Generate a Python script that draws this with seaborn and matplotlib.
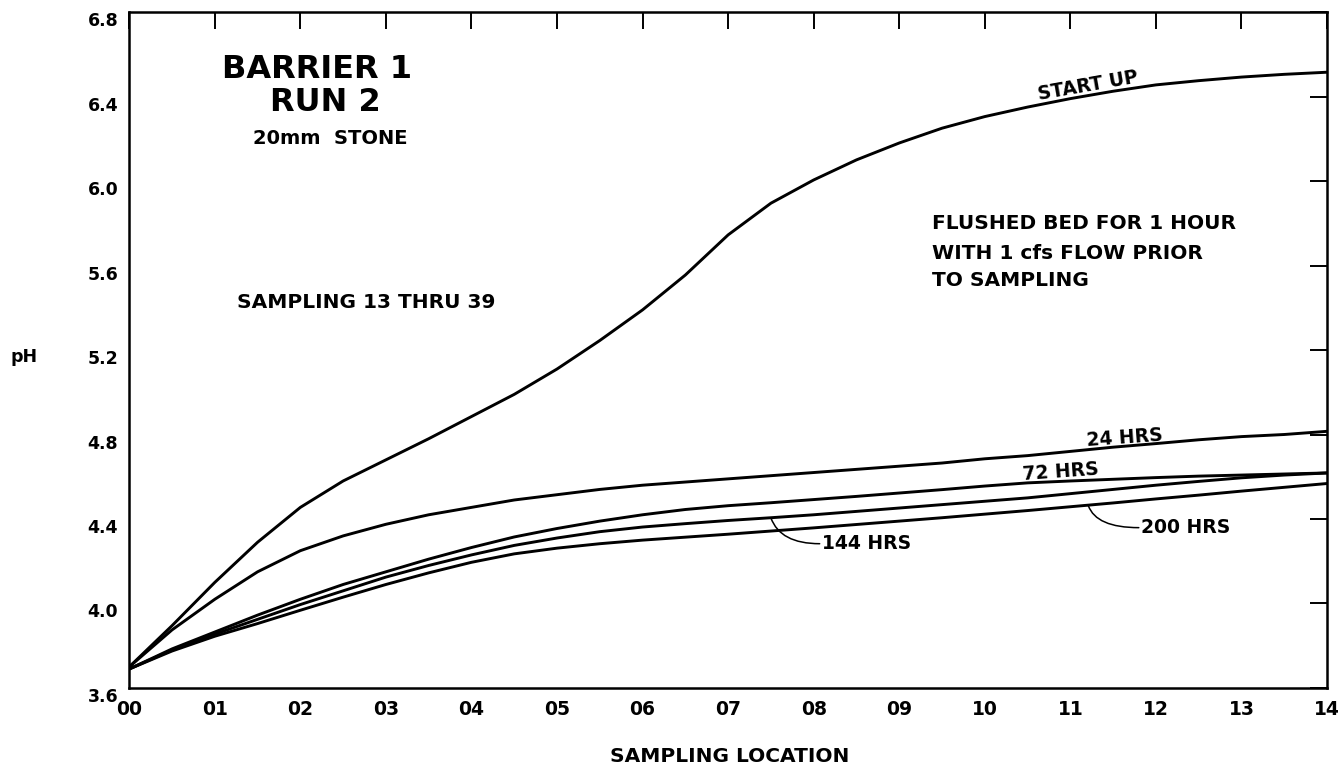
import matplotlib
matplotlib.use("Agg")
import matplotlib.pyplot as plt
import seaborn as sns
import pandas as pd

# ---------------- data ----------------
locations = [0.0, 0.5, 1.0, 1.5, 2.0, 2.5, 3.0, 3.5, 4.0, 4.5, 5.0, 5.5, 6.0, 6.5,
             7.0, 7.5, 8.0, 8.5, 9.0, 9.5, 10.0, 10.5, 11.0, 11.5, 12.0, 12.5,
             13.0, 13.5, 14.0]

start_up = [3.70, 3.895, 4.10, 4.29, 4.455, 4.58, 4.68, 4.78, 4.885, 4.99, 5.11,
            5.245, 5.39, 5.555, 5.745, 5.895, 6.005, 6.10, 6.18, 6.25, 6.305,
            6.35, 6.39, 6.425, 6.455, 6.475, 6.492, 6.505, 6.515]

hrs_24 = [3.70, 3.875, 4.02, 4.15, 4.25, 4.32, 4.375, 4.42, 4.455, 4.49, 4.515,
          4.54, 4.56, 4.575, 4.59, 4.605, 4.62, 4.635, 4.65, 4.665, 4.685,
          4.70, 4.72, 4.74, 4.757, 4.775, 4.79, 4.80, 4.815]

hrs_72 = [3.69, 3.785, 3.865, 3.945, 4.02, 4.09, 4.15, 4.21, 4.265, 4.315, 4.355,
          4.39, 4.42, 4.445, 4.463, 4.477, 4.492, 4.507, 4.523, 4.539, 4.556,
          4.571, 4.580, 4.588, 4.596, 4.603, 4.608, 4.613, 4.618]

hrs_144 = [3.69, 3.78, 3.855, 3.925, 3.995, 4.06, 4.125, 4.18, 4.23, 4.275, 4.31,
           4.34, 4.362, 4.378, 4.393, 4.406, 4.42, 4.436, 4.452, 4.468, 4.484,
           4.50, 4.52, 4.54, 4.56, 4.578, 4.595, 4.608, 4.618]

hrs_200 = [3.69, 3.775, 3.845, 3.905, 3.968, 4.03, 4.09, 4.145, 4.195, 4.235, 4.262,
           4.283, 4.30, 4.314, 4.328, 4.343, 4.358, 4.374, 4.39, 4.406, 4.423,
           4.44, 4.458, 4.476, 4.495, 4.513, 4.532, 4.55, 4.568]

series_names = ["START UP", "24 HRS", "72 HRS", "144 HRS", "200 HRS"]
series_values = [start_up, hrs_24, hrs_72, hrs_144, hrs_200]

x_ticks = list(range(15))
x_tick_labels = ["00", "01", "02", "03", "04", "05", "06", "07", "08", "09",
                 "10", "11", "12", "13", "14"]
y_ticks = [3.6, 4.0, 4.4, 4.8, 5.2, 5.6, 6.0, 6.4, 6.8]
y_tick_labels = ["3.6", "4.0", "4.4", "4.8", "5.2", "5.6", "6.0", "6.4", "6.8"]

# ---------------- build long table ----------------
rows = []
for name, vals in zip(series_names, series_values):
    for xv, yv in zip(locations, vals):
        rows.append({"location": xv, "pH": yv, "series": name})
df = pd.DataFrame(rows)

# ---------------- style ----------------
sns.set_theme(style="white")
plt.rcParams["font.family"] = ["DejaVu Sans"]
plt.rcParams["font.weight"] = "bold"
plt.rcParams["text.color"] = "black"
plt.rcParams["axes.labelcolor"] = "black"
plt.rcParams["xtick.color"] = "black"
plt.rcParams["ytick.color"] = "black"

fig = plt.figure(figsize=(13.38, 7.7), dpi=100)
ax = fig.add_axes([0.0966, 0.1065, 0.8952, 0.8779])

sns.lineplot(data=df, x="location", y="pH", hue="series",
             palette=["black"] * len(series_names), legend=False,
             linewidth=2.1, estimator=None, sort=False, ax=ax)

ax.set_xlim(0, 14)
ax.set_ylim(3.6, 6.8)
ax.set_xticks(x_ticks)
ax.set_xticklabels(x_tick_labels, fontsize=13.5, fontweight="bold", color="black")
ax.set_yticks(y_ticks)
ax.set_yticklabels(y_tick_labels, fontsize=12.5, fontweight="bold", color="black")
for lab in ax.get_yticklabels():
    lab.set_va("top")

ax.tick_params(axis="both", direction="in", length=12, width=1.4, color="black",
               labelcolor="black", top=True, right=True,
               labeltop=False, labelright=False)
ax.tick_params(axis="x", pad=9)
ax.tick_params(axis="y", pad=8)
for sp in ax.spines.values():
    sp.set_color("black")
    sp.set_linewidth(1.8)
ax.grid(False)

ax.set_xlabel("SAMPLING LOCATION", fontsize=14.5, fontweight="bold", color="black")
ax.xaxis.set_label_coords(0.5016, -0.1095)
ax.xaxis.label.set_va("baseline")
ax.set_ylabel("pH", fontsize=12.5, fontweight="bold", rotation=0, color="black")
ax.yaxis.set_label_coords(-0.088, 0.4827)
ax.yaxis.label.set_va("baseline")
ax.yaxis.label.set_ha("center")

# ---------------- annotations ----------------
txt = dict(fontweight="bold", color="black")
ax.text(2.19, 6.486, "BARRIER 1", fontsize=23, ha="center", va="baseline", **txt)
ax.text(2.29, 6.333, "RUN 2", fontsize=23, ha="center", va="baseline", **txt)
ax.text(2.35, 6.176, "20mm  STONE", fontsize=14, ha="center", va="baseline", **txt)
ax.text(2.767, 5.40, "SAMPLING 13 THRU 39", fontsize=14.5,
        ha="center", va="baseline", **txt)
ax.text(9.38, 5.772, "FLUSHED BED FOR 1 HOUR", fontsize=14.5,
        ha="left", va="baseline", **txt)
ax.text(9.38, 5.631, "WITH 1 cfs FLOW PRIOR", fontsize=14.5,
        ha="left", va="baseline", **txt)
ax.text(9.38, 5.502, "TO SAMPLING", fontsize=14.5,
        ha="left", va="baseline", **txt)

ax.text(11.21, 6.45, "START UP", fontsize=13.5, ha="center",
        va="center", rotation=10, rotation_mode="anchor", **txt)
ax.text(11.64, 4.783, "24 HRS", fontsize=13.5, ha="center",
        va="center", rotation=4, rotation_mode="anchor", **txt)
ax.text(10.89, 4.622, "72 HRS", fontsize=13.5, ha="center",
        va="center", rotation=4, rotation_mode="anchor", **txt)
ax.text(8.10, 4.283, "144 HRS", fontsize=13.5, ha="left", va="center", **txt)
ax.text(11.83, 4.359, "200 HRS", fontsize=13.5, ha="left", va="center", **txt)

leader = dict(arrowstyle="-", color="black", lw=1.1,
              connectionstyle="angle3,angleA=0,angleB=110",
              shrinkA=0, shrinkB=0)
ax.annotate("", xy=(7.50, 4.405), xytext=(8.07, 4.283), arrowprops=leader)
ax.annotate("", xy=(11.21, 4.463), xytext=(11.80, 4.359), arrowprops=leader)

fig.savefig("out.png", dpi=100, facecolor="white")
